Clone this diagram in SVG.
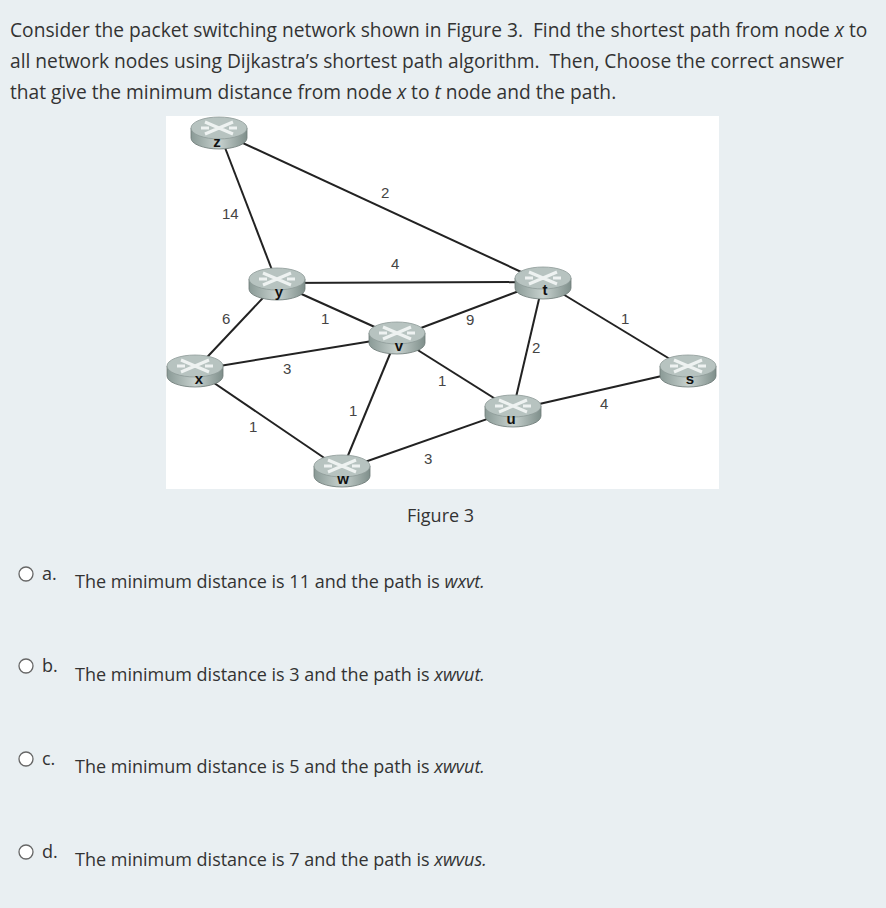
<svg xmlns="http://www.w3.org/2000/svg" width="886" height="908" viewBox="0 0 886 908">
<defs>
<style>
.t{font-family:"Open Sans",sans-serif;fill:#333;font-size:18px}
.q{font-size:19.2px}
.lb{font-family:"Liberation Sans",sans-serif;fill:#444;font-size:15px}
.e{stroke:#222;stroke-width:2;fill:none}
.nl{font-family:"Liberation Sans",sans-serif;font-weight:bold;font-size:15px;fill:#111;text-anchor:middle}
.r{fill:#fff;stroke:#666;stroke-width:1.3}
</style>
<linearGradient id="side" x1="0" x2="1" y1="0" y2="0"><stop offset="0" stop-color="#8a9a96"/><stop offset="0.5" stop-color="#c7d1ce"/><stop offset="1" stop-color="#7f8f8b"/></linearGradient>
<g id="router">
<path d="M-28,-4 L-28,6 A28,11 0 0 0 28,6 L28,-4 Z" fill="url(#side)" stroke="#6d7a77" stroke-width="0.8"/>
<ellipse cx="0" cy="-4" rx="28" ry="11" fill="#b7c3c0" stroke="#8e9b98" stroke-width="0.8"/>
<path d="M-14,-10 L14,2 M-14,2 L14,-10 M-18,-4 L-10,-4 M10,-4 L18,-4" stroke="#eef2f1" stroke-width="3" fill="none"/>
</g>
</defs>
<rect width="886" height="908" fill="#e9eff2"/>
<text class="t q" x="10" y="37" xml:space="preserve">Consider the packet switching network shown in Figure 3.  Find the shortest path from node <tspan font-style="italic">x</tspan> to</text>
<text class="t q" x="10" y="68" xml:space="preserve">all network nodes using Dijkastra’s shortest path algorithm.  Then, Choose the correct answer</text>
<text class="t q" x="10" y="99">that give the minimum distance from node <tspan font-style="italic">x</tspan> to <tspan font-style="italic">t</tspan> node and the path.</text>
<rect x="166" y="116" width="553" height="373" fill="#fff"/>
<g id="connectors">
<line class="e" x1="219" y1="132" x2="543" y2="282"/>
<line class="e" x1="219" y1="132" x2="277" y2="283"/>
<line class="e" x1="277" y1="283" x2="543" y2="282"/>
<line class="e" x1="277" y1="283" x2="195" y2="370"/>
<line class="e" x1="277" y1="283" x2="397" y2="337"/>
<line class="e" x1="397" y1="337" x2="543" y2="282"/>
<line class="e" x1="195" y1="370" x2="397" y2="337"/>
<line class="e" x1="195" y1="370" x2="342" y2="470"/>
<line class="e" x1="397" y1="337" x2="342" y2="470"/>
<line class="e" x1="397" y1="337" x2="513" y2="410"/>
<line class="e" x1="543" y1="282" x2="513" y2="410"/>
<line class="e" x1="543" y1="282" x2="688" y2="370"/>
<line class="e" x1="513" y1="410" x2="688" y2="370"/>
<line class="e" x1="342" y1="470" x2="513" y2="410"/>
</g>
<g class="lb">
<text x="381" y="198">2</text>
<text x="222" y="219">14</text>
<text x="391" y="269">4</text>
<text x="222" y="324">6</text>
<text x="321" y="324">1</text>
<text x="466" y="325">9</text>
<text x="621" y="324">1</text>
<text x="532" y="353">2</text>
<text x="283" y="374">3</text>
<text x="438" y="386">1</text>
<text x="349" y="416">1</text>
<text x="600" y="409">4</text>
<text x="249" y="432">1</text>
<text x="424" y="464">3</text>
</g>
<g id="node-z"><use href="#router" x="219" y="132"/><text class="nl" x="217" y="147">z</text></g>
<g id="node-y"><use href="#router" x="277" y="283"/><text class="nl" x="279" y="297">y</text></g>
<g id="node-t"><use href="#router" x="543" y="282"/><text class="nl" x="545" y="295">t</text></g>
<g id="node-v"><use href="#router" x="397" y="337"/><text class="nl" x="399" y="351">v</text></g>
<g id="node-x"><use href="#router" x="195" y="370"/><text class="nl" x="199" y="384">x</text></g>
<g id="node-s"><use href="#router" x="688" y="370"/><text class="nl" x="690" y="384">s</text></g>
<g id="node-u"><use href="#router" x="513" y="410"/><text class="nl" x="511" y="424">u</text></g>
<g id="node-w"><use href="#router" x="342" y="470"/><text class="nl" x="343" y="484">w</text></g>
<text class="t" x="407" y="522">Figure 3</text>
<circle class="r" cx="26" cy="574" r="7"/><text class="t" x="42" y="580">a.</text>
<text class="t" x="75" y="588" font-size="16.7">The minimum distance is 11 and the path is <tspan font-style="italic">wxvt.</tspan></text>
<circle class="r" cx="26" cy="666" r="7"/><text class="t" x="42" y="672">b.</text>
<text class="t" x="75" y="681" font-size="16.7">The minimum distance is 3 and the path is <tspan font-style="italic">xwvut.</tspan></text>
<circle class="r" cx="26" cy="759" r="7"/><text class="t" x="42" y="765" font-size="15">c.</text>
<text class="t" x="75" y="773" font-size="16.7">The minimum distance is 5 and the path is <tspan font-style="italic">xwvut.</tspan></text>
<circle class="r" cx="26" cy="852" r="7"/><text class="t" x="42" y="858">d.</text>
<text class="t" x="75" y="866" font-size="16.7">The minimum distance is 7 and the path is <tspan font-style="italic">xwvus.</tspan></text>
</svg>
